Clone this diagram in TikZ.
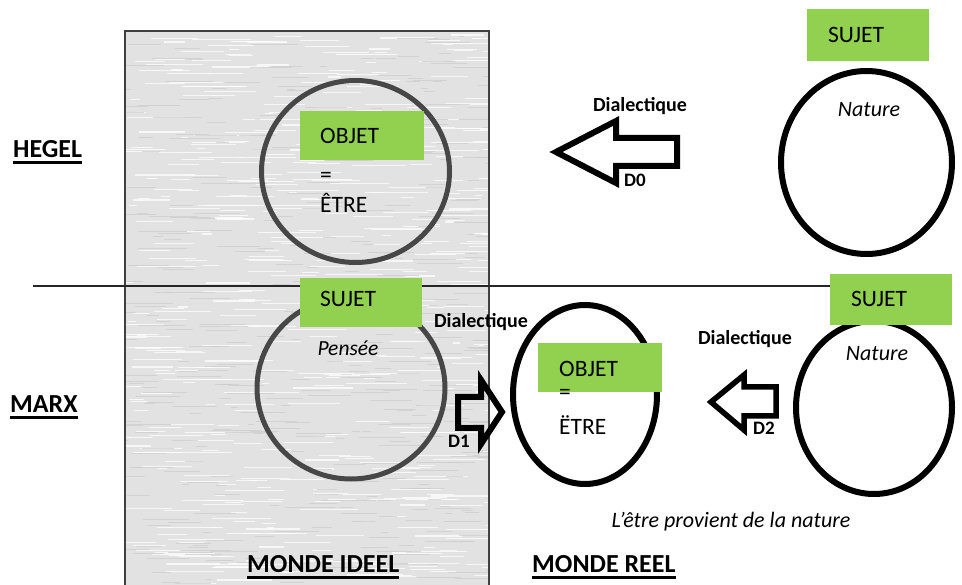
\documentclass[tikz,border=0pt]{standalone}
\usepackage{fontspec}
\setmainfont{Carlito}
\definecolor{boxgreen}{HTML}{92D050}
\definecolor{paper}{HTML}{E2E2E2}
\definecolor{ring}{HTML}{474747}
\begin{document}
\begin{tikzpicture}[x=1pt,y=-1pt,
  greenbox/.style={fill=boxgreen, draw=none, inner sep=0, anchor=north west},
  boxtext/.style={anchor=base west, inner sep=0, font=\fontsize{23.5}{28}\selectfont},
  heading/.style={anchor=base west, inner sep=0, font=\fontsize{26}{30}\selectfont\bfseries},
  dlabel/.style={anchor=base, inner sep=0, font=\fontsize{20}{24}\selectfont\bfseries},
  note/.style={anchor=base, inner sep=0, font=\fontsize{22}{26}\selectfont\itshape},
  grayring/.style={draw=ring, line width=5pt},
  blackring/.style={draw=black, line width=6pt},
  blockarrow/.style={draw=black, line width=6pt, line join=miter},
  ulinestyle/.style={line width=3pt},
]
\useasboundingbox (0,0) rectangle (962,585);

% ideal world panel
\fill[paper] (125,31) rectangle (489,590);
\begin{scope}
  \clip (125,31) rectangle (489,585);
  \pgfmathsetseed{12}
  \foreach \i in {1,...,520}{
    \pgfmathsetmacro\xa{115+rnd*374}
    \pgfmathsetmacro\ya{31+rnd*554}
    \pgfmathsetmacro\ll{6+rnd*55}
    \draw[white, line width=1.1pt, opacity=0.75] (\xa,\ya) -- ++(\ll,0);
  }
  \foreach \i in {1,...,380}{
    \pgfmathsetmacro\xa{115+rnd*374}
    \pgfmathsetmacro\ya{31+rnd*554}
    \pgfmathsetmacro\ll{6+rnd*45}
    \draw[black!20, line width=0.9pt, opacity=0.7] (\xa,\ya) -- ++(\ll,0);
  }
\end{scope}
\draw[black!75, line width=1.5pt] (125,590) -- (125,31) -- (489,31) -- (489,590);

% separator
\coordinate (hl) at (33,286);
\coordinate (hr) at (830,286);
\draw[black!85, line width=1.3pt] (hl) -- (hr);

% circles
\draw[grayring] (355.5,171.5) ellipse [x radius=94, y radius=91];
\draw[grayring] (351,388) ellipse [x radius=94, y radius=91];
\draw[blackring] (866.5,162.5) ellipse [x radius=85.5, y radius=91.5];
\draw[blackring] (585,394.5) ellipse [x radius=72, y radius=89.5];
\draw[blackring] (874,407.5) ellipse [x radius=78, y radius=86.5];

% green boxes
\node[greenbox, minimum width=124pt, minimum height=49pt] (g1) at (300,111) {};
\node[greenbox, minimum width=122pt, minimum height=49pt] (g2) at (300,278) {};
\node[greenbox, minimum width=124pt, minimum height=49pt] (g3) at (538,343) {};
\node[greenbox, minimum width=122pt, minimum height=51pt] (g4) at (830,274) {};
\node[greenbox, minimum width=122pt, minimum height=52pt] (g5) at (807,9) {};

% box and circle texts
\node[boxtext] (t1) at (320,144) {OBJET};
\node[boxtext] (t2) at (320,183) {=};
\node[boxtext] (t3) at (320,213) {ÊTRE};
\node[boxtext] (t4) at (320,307) {SUJET};
\node[boxtext] (t5) at (559,377) {OBJET};
\node[boxtext] (t6) at (559,400) {=};
\node[boxtext] (t7) at (559,435) {ËTRE};
\node[boxtext] (t8) at (851,307) {SUJET};
\node[boxtext] (t9) at (828,43) {SUJET};
\node[note] (n1) at (869,117) {Nature};
\node[note] (n2) at (877,361) {Nature};
\node[note, font=\fontsize{21.5}{26}\selectfont\itshape] (n3) at (348,356) {Pensée};
\node[note] (n4) at (731,527) {L\char39être provient de la nature};

% block arrows
\draw[blockarrow] (556,152) -- (616,121) -- (616,138) -- (677,138) -- (677,166) -- (616,166) -- (616,183) -- cycle;
\draw[blockarrow] (502,412) -- (481,380) -- (481,397) -- (458,397) -- (458,428) -- (481,428) -- (481,444) -- cycle;
\draw[blockarrow, line width=5.5pt] (711,402) -- (744,375) -- (744,387) -- (776,387) -- (776,416) -- (744,416) -- (744,430) -- cycle;

% arrow labels
\node[dlabel] (d0t) at (640,112) {Dialectique};
\node[dlabel] (d1t) at (481,328) {Dialectique};
\node[dlabel] (d2t) at (745,345) {Dialectique};
\node[dlabel, font=\fontsize{19}{22}\selectfont\bfseries] (d0) at (635,187) {D0};
\node[dlabel, font=\fontsize{19}{22}\selectfont\bfseries] (d1) at (459,447) {D1};
\node[dlabel, font=\fontsize{19}{22}\selectfont\bfseries] (d2) at (764,435) {D2};

% headings
\node[heading] (hegel) at (13,158) {HEGEL};
\node[heading] (marx) at (10,413) {MARX};
\node[heading] (mi) at (247,572) {MONDE IDEEL};
\node[heading] (mr) at (532,572) {MONDE REEL};
\foreach \h in {hegel,marx,mi,mr}{
  \draw[ulinestyle] ([yshift=-5pt]\h.base west) -- ([yshift=-5pt]\h.base east);
}
\end{tikzpicture}
\end{document}
